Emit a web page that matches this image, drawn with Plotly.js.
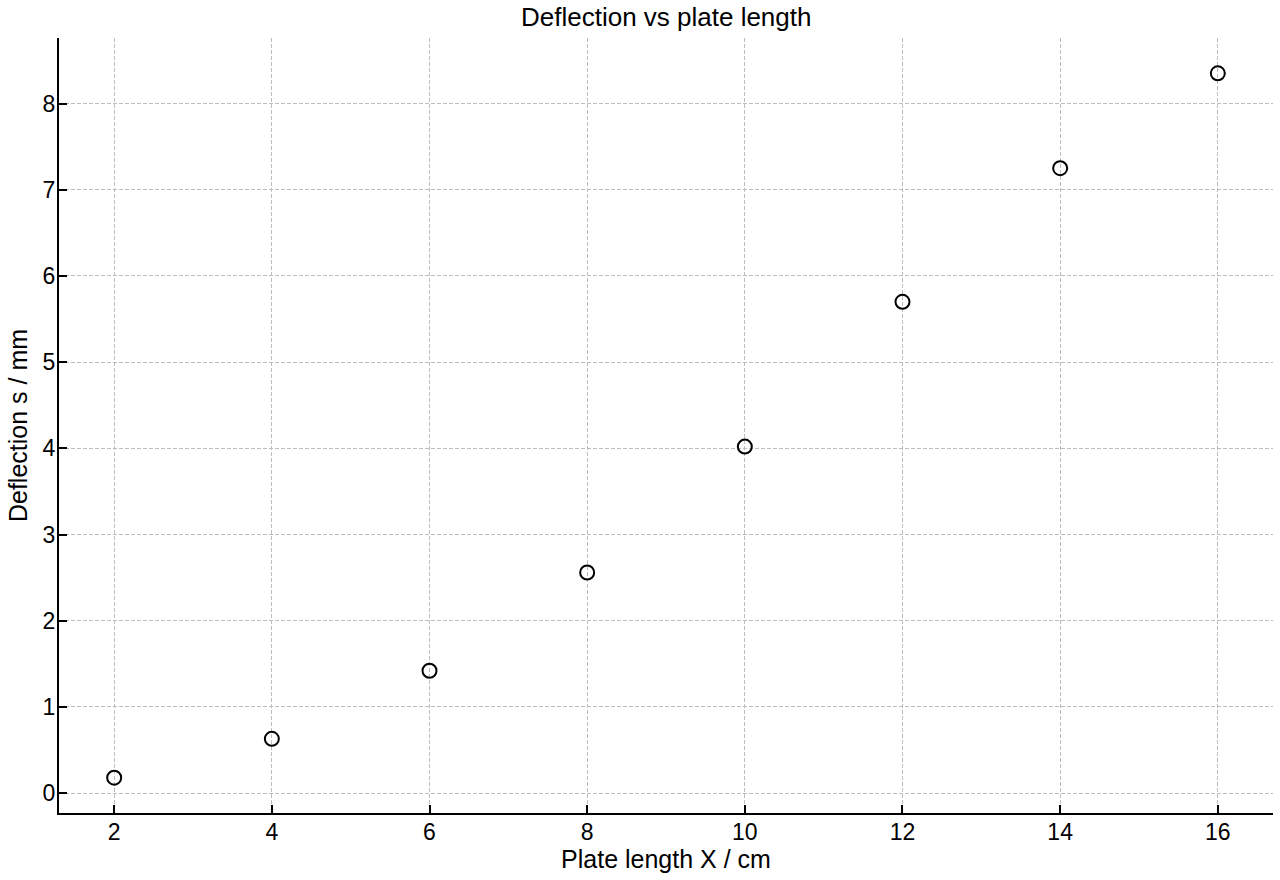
<!DOCTYPE html>
<html>
<head>
<meta charset="utf-8">
<script src="https://cdn.plot.ly/plotly-3.0.1.min.js"></script>
<style>
  html, body { margin: 0; padding: 0; background: #fff; }
  #chart { width: 1280px; height: 880px; }
</style>
</head>
<body>
<div id="chart"></div>
<script>
// plate length (cm) and measured deflection (mm)
var plateLength = [2, 4, 6, 8, 10, 12, 14, 16];
var deflection = [0.18, 0.63, 1.42, 2.56, 4.02, 5.70, 7.25, 8.35];

var xTicks = [2, 4, 6, 8, 10, 12, 14, 16];
var yTicks = [0, 1, 2, 3, 4, 5, 6, 7, 8];

var trace = {
  x: plateLength,
  y: deflection,
  type: 'scatter',
  mode: 'markers',
  marker: {
    symbol: 'circle-open',
    size: 14,
    color: '#000',
    line: { width: 2, color: '#000' }
  },
  showlegend: false
};

var fam = 'Liberation Sans, Arial, sans-serif';
var tickFont = { family: fam, size: 23, color: '#000' };
var labelFont = { family: fam, size: 25, color: '#000' };

var layout = {
  width: 1280,
  height: 880,
  margin: { l: 59, r: 7, t: 38, b: 67 },
  paper_bgcolor: '#fff',
  plot_bgcolor: '#fff',
  font: tickFont,
  title: {
    text: 'Deflection vs plate length',
    font: { family: fam, size: 26, color: '#000' },
    x: 0.5205, xanchor: 'center',
    y: 0.981, yanchor: 'middle'
  },
  xaxis: {
    range: [1.3, 16.7],
    tickvals: xTicks,
    ticktext: xTicks.map(String),
    ticks: 'inside',
    ticklen: 8,
    tickwidth: 2,
    tickcolor: '#000',
    ticklabelstandoff: -3,
    showline: true,
    linecolor: '#000',
    linewidth: 2,
    mirror: false,
    zeroline: false,
    showgrid: true,
    gridcolor: '#bdbdbd',
    gridwidth: 1,
    griddash: '4px,2px',
    tickfont: tickFont,
    title: { text: 'Plate length X / cm', font: labelFont, standoff: 6 }
  },
  yaxis: {
    range: [-0.23, 8.76],
    tickvals: yTicks,
    ticktext: yTicks.map(String),
    ticks: 'inside',
    ticklen: 8,
    tickwidth: 2,
    tickcolor: '#000',
    ticklabelstandoff: -3,
    showline: true,
    linecolor: '#000',
    linewidth: 2,
    mirror: false,
    zeroline: false,
    showgrid: true,
    gridcolor: '#bdbdbd',
    gridwidth: 1,
    griddash: '4px,2px',
    tickfont: tickFont,
    title: { text: 'Deflection s / mm', font: labelFont, standoff: 8 }
  }
};

Plotly.newPlot('chart', [trace], layout, { displayModeBar: false, staticPlot: true });
</script>
</body>
</html>
